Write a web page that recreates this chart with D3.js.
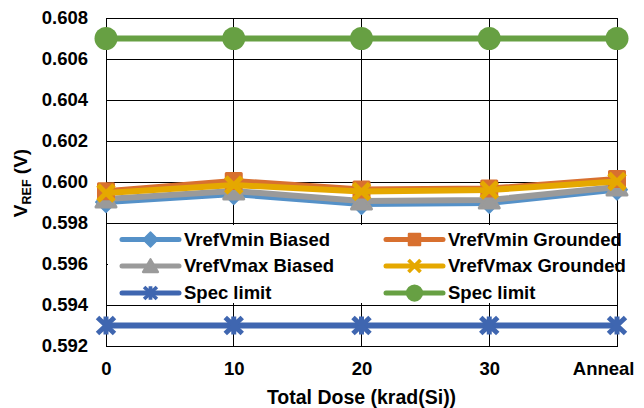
<!DOCTYPE html>
<html><head><meta charset="utf-8">
<script src="https://cdn.jsdelivr.net/npm/d3@7"></script>
<style>
body{margin:0;background:#fff}
text{font-family:"Liberation Sans",Arial,sans-serif;font-weight:bold;fill:#000}
</style>
</head><body><svg id="c" width="644" height="408"></svg>
<script>
const categories = ["0", "10", "20", "30", "Anneal"];
const vminBiased   = [0.59902, 0.59941, 0.59893, 0.59898, 0.59963];
const vmaxBiased   = [0.59917, 0.59956, 0.59907, 0.59912, 0.59976];
const vminGrounded = [0.59955, 0.60005, 0.59963, 0.59968, 0.60015];
const vmaxGrounded = [0.59946, 0.59985, 0.59954, 0.59961, 0.60002];
const specLow  = [0.593, 0.593, 0.593, 0.593, 0.593];
const specHigh = [0.607, 0.607, 0.607, 0.607, 0.607];
const yTicks = [0.592, 0.594, 0.596, 0.598, 0.600, 0.602, 0.604, 0.606, 0.608];
const seriesNames = ["VrefVmin Biased", "VrefVmax Biased", "VrefVmin Grounded", "VrefVmax Grounded", "Spec limit", "Spec limit"];

const series = [
  {name: seriesNames[0], values: vminBiased,   color: "#5591C8", marker: "diamond"},
  {name: seriesNames[1], values: vmaxBiased,   color: "#9A9A9A", marker: "triangle"},
  {name: seriesNames[2], values: vminGrounded, color: "#D8702F", marker: "square"},
  {name: seriesNames[3], values: vmaxGrounded, color: "#E5A800", marker: "x"},
  {name: seriesNames[4], values: specLow,      color: "#3F66B0", marker: "asterisk"},
  {name: seriesNames[5], values: specHigh,     color: "#67A043", marker: "circle"}
];

const svg = d3.select("#c");
const M = {left: 106, right: 617, top: 18, bottom: 346};
const x = d3.scalePoint().domain(categories).range([M.left, M.right]).padding(0);
const y = d3.scaleLinear().domain([0.592, 0.608]).range([M.bottom, M.top]);

// gridlines
const grid = svg.append("g").attr("shape-rendering", "crispEdges");
grid.selectAll("line.h").data(yTicks).join("line").attr("class", "h")
  .attr("x1", M.left).attr("x2", M.right)
  .attr("y1", d => y(d)).attr("y2", d => y(d))
  .attr("stroke", "#000").attr("stroke-width", 1);
grid.selectAll("line.v").data(categories).join("line").attr("class", "v")
  .attr("x1", d => x(d)).attr("x2", d => x(d))
  .attr("y1", M.top).attr("y2", M.bottom)
  .attr("stroke", "#000").attr("stroke-width", 1);

// axes
const yAxis = svg.append("g").attr("transform", `translate(${M.left},0)`)
  .call(d3.axisLeft(y).tickValues(yTicks).tickSize(0).tickSizeOuter(0).tickPadding(18).tickFormat(d3.format(".3f")));
yAxis.select(".domain").attr("stroke", "#000").attr("shape-rendering", "crispEdges");
yAxis.selectAll("text").style("font-size", "18.5px").style("font-family", "'Liberation Sans',Arial,sans-serif").style("font-weight", "bold");

const xAxis = svg.append("g").attr("transform", `translate(0,${M.bottom})`)
  .call(d3.axisBottom(x).tickSize(0).tickSizeOuter(0).tickPadding(15.5));
xAxis.select(".domain").attr("stroke", "#000").attr("shape-rendering", "crispEdges");
xAxis.selectAll("text").style("font-size", "18.5px").style("font-family", "'Liberation Sans',Arial,sans-serif").style("font-weight", "bold");
xAxis.selectAll(".tick").filter(d => d === "Anneal").select("text")
  .attr("text-anchor", "end").attr("x", 634 - x("Anneal"));

// axis titles
svg.append("text").attr("x", (M.left + M.right) / 2).attr("y", 404)
  .attr("text-anchor", "middle").style("font-size", "19.5px").text("Total Dose (krad(Si))");
const yt = svg.append("text").attr("transform", "translate(27,183) rotate(-90)")
  .attr("text-anchor", "middle").style("font-size", "19px");
yt.append("tspan").text("V");
yt.append("tspan").attr("dy", 4).style("font-size", "12.5px").text("REF");
yt.append("tspan").attr("dy", -4).text(" (V)");

// legend background
svg.append("rect").attr("x", 108).attr("y", 225).attr("width", 507).attr("height", 78).attr("fill", "#fff");

function drawMarker(g, type, color, cx, cy, s) {
  const m = g.append("g").attr("transform", `translate(${cx},${cy}) scale(${s})`);
  if (type === "diamond") {
    m.append("path").attr("d", "M0,-10L10,0L0,10L-10,0Z").attr("fill", color).attr("stroke", color).attr("stroke-width", 2).attr("stroke-linejoin", "round");
  } else if (type === "triangle") {
    m.append("path").attr("d", "M0,-9L10,8L-10,8Z").attr("fill", color).attr("stroke", color).attr("stroke-width", 3).attr("stroke-linejoin", "round");
  } else if (type === "square") {
    m.append("rect").attr("x", -7.5).attr("y", -7.5).attr("width", 15).attr("height", 15).attr("fill", color).attr("stroke", color).attr("stroke-width", 3).attr("stroke-linejoin", "round");
  } else if (type === "x") {
    m.append("path").attr("d", "M-8,-8L8,8M8,-8L-8,8").attr("stroke", color).attr("stroke-width", 5).attr("fill", "none");
  } else if (type === "asterisk") {
    m.append("path").attr("d", "M-8.5,-8L8.5,8M8.5,-8L-8.5,8M0,-9L0,9").attr("stroke", color).attr("stroke-width", 5).attr("fill", "none");
  } else if (type === "circle") {
    m.append("circle").attr("r", 11.5).attr("fill", color);
  }
}

// series
const line = d3.line().x((d, i) => x(categories[i])).y(d => y(d));
const plot = svg.append("g");
series.forEach(s => {
  const g = plot.append("g");
  g.append("path").attr("d", line(s.values)).attr("fill", "none").attr("stroke", s.color)
    .attr("stroke-width", 6).attr("stroke-linejoin", "round").attr("stroke-linecap", "round");
  s.values.forEach((v, i) => drawMarker(g, s.marker, s.color, x(categories[i]), y(v), 1));
});

// legend
const legendOrder = [0, 2, 1, 3, 4, 5];
const rowsY = [239.5, 266, 293];
const colX = [122, 386];
const leg = svg.append("g");
legendOrder.forEach((si, k) => {
  const s = series[si];
  const col = k % 2, row = Math.floor(k / 2);
  const x0 = colX[col], yy = rowsY[row];
  const g = leg.append("g");
  g.append("line").attr("x1", x0).attr("x2", x0 + 57).attr("y1", yy).attr("y2", yy)
    .attr("stroke", s.color).attr("stroke-width", 5).attr("stroke-linecap", "round");
  drawMarker(g, s.marker, s.color, x0 + 28.5, yy, 0.75);
  g.append("text").attr("x", x0 + 62).attr("y", yy).attr("dy", "0.35em")
    .style("font-size", "18.5px").text(s.name);
});
</script>
</body></html>
